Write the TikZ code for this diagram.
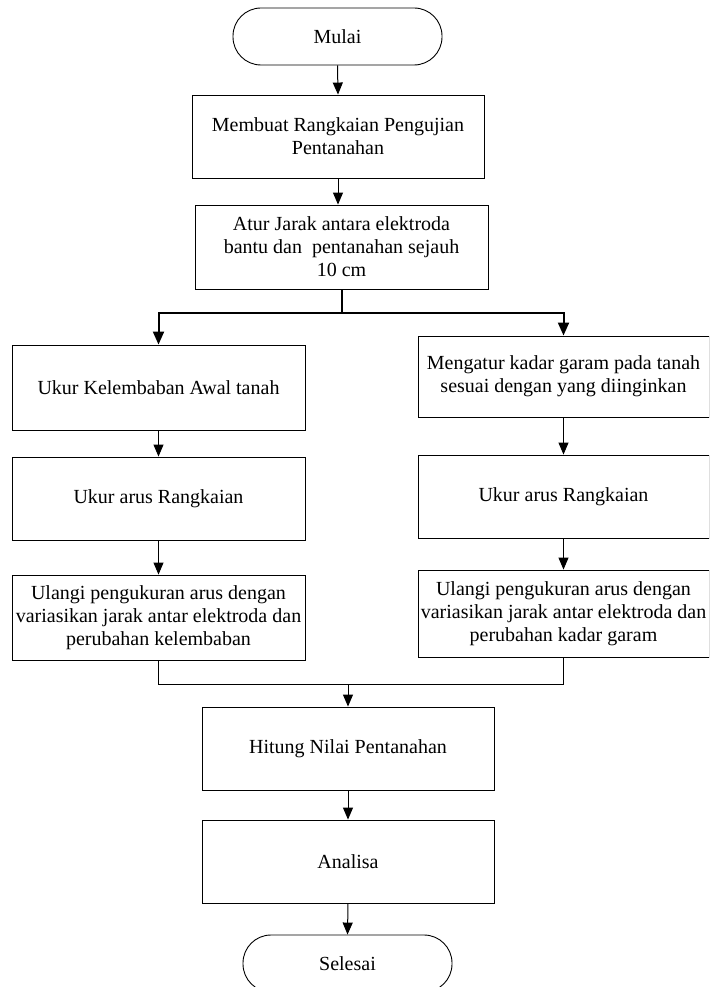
\documentclass[tikz,border=0pt]{standalone}
\usepackage{fontspec}
\setmainfont{Liberation Serif}
\usetikzlibrary{arrows.meta,calc}
\begin{document}
\begin{tikzpicture}[x=1pt,y=-1pt,
  box/.style={draw,line width=0.9pt,rectangle,align=center,inner sep=1pt,
    minimum width=293pt,minimum height=83pt,font=\fontsize{20}{23}\selectfont},
  terminal/.style={draw,line width=0.9pt,rectangle,rounded corners=28pt,align=center,
    minimum width=209pt,minimum height=57pt,font=\fontsize{20}{23}\selectfont},
  arr/.style={-{Triangle[length=12pt,width=10pt]},line width=1pt},
  thickarr/.style={-{Triangle[length=13pt,width=11pt]},line width=2pt},
  thinline/.style={line width=0.9pt}
]
\useasboundingbox (0,0) rectangle (709,987);
\fill[white] (0,0) rectangle (709,987);
\clip (0,0) rectangle (709,987);

\node[terminal] (mulai) at (337.5,36.5) {Mulai};
\node[box,minimum width=292pt] (b1) at (338,136.5) {Membuat Rangkaian Pengujian\\Pentanahan};
\node[box,minimum height=84pt] (b2) at (341.5,247) {Atur Jarak antara elektroda\\bantu dan \ pentanahan sejauh\\10 cm};

\node[box,minimum height=85pt] (l1) at (158.5,387.5) {Ukur Kelembaban Awal tanah};
\node[box] (l2) at (158.5,498.5) {Ukur arus Rangkaian};
\node[box,minimum height=85pt] (l3) at (158.5,617.5) {Ulangi pengukuran arus dengan\\variasikan jarak antar elektroda dan\\perubahan kelembaban};

\node[box,minimum width=291pt,minimum height=81pt] (r1) at (563.5,376.5) {Mengatur kadar garam pada tanah\\sesuai dengan yang diinginkan};
\node[box,minimum width=291pt] (r2) at (563.5,496.5) {Ukur arus Rangkaian};
\node[box,minimum width=291pt,minimum height=87pt] (r3) at (563.5,613.5) {Ulangi pengukuran arus dengan\\variasikan jarak antar elektroda dan\\perubahan kadar garam};

\node[box,minimum width=292pt] (h) at (348,748.5) {Hitung Nilai Pentanahan};
\node[box,minimum width=292pt] (a) at (348,861.5) {Analisa};
\node[terminal] (s) at (347.5,963.5) {Selesai};

\coordinate (split) at ($(b2.south)+(0,24)$);
\coordinate (merge) at ($(h.north)+(0,-22)$);

\draw[arr] (mulai.south) -- (b1.north);
\draw[arr] (b1.south) -- (b1.south |- b2.north);
\draw[line width=2pt] (b2.south) -- (split);
\draw[thickarr] (split) -| (l1.north);
\draw[thickarr] (split) -| (r1.north);
\draw[arr] (l1.south) -- (l2.north);
\draw[arr] (l2.south) -- (l3.north);
\draw[arr] (r1.south) -- (r2.north);
\draw[arr] (r2.south) -- (r3.north);
\draw[thinline] (l3.south) |- (merge);
\draw[thinline] (r3.south) |- (merge);
\draw[arr] (merge) -- (h.north);
\draw[arr] (h.south) -- (a.north);
\draw[arr] (a.south) -- (s.north);
\end{tikzpicture}
\end{document}
